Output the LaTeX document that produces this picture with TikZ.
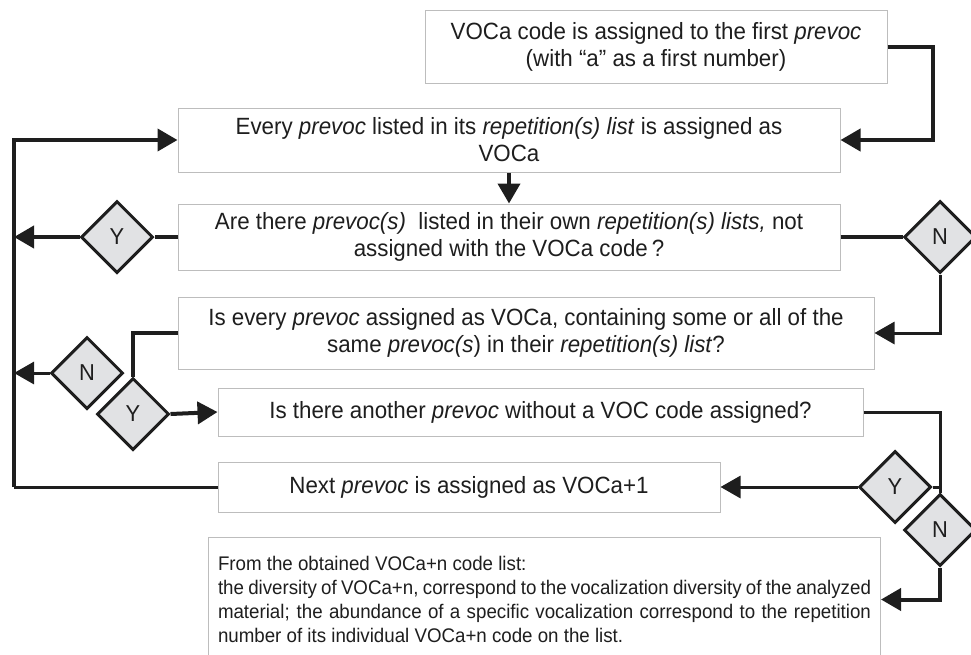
\documentclass[tikz,border=0pt]{standalone}
\usepackage{fontspec}
\setmainfont{Liberation Sans}[FakeStretch=0.95]
\usetikzlibrary{arrows.meta,shapes.geometric,calc}
\definecolor{boxline}{HTML}{BDBDBD}
\definecolor{dfill}{HTML}{E1E2E4}
\definecolor{ink}{HTML}{1E1E1E}
\tikzset{
  stepbox/.style={draw=boxline,line width=1pt,fill=white,align=center,
    inner sep=0pt,font=\fontsize{23.5}{27}\selectfont,text=ink},
  choice/.style={diamond,draw=ink,line width=3pt,fill=dfill,aspect=1,
    minimum size=72pt,inner sep=0pt,font=\fontsize{23}{26}\selectfont,text=ink},
  flow/.style={draw=ink,line width=4pt},
  thinflow/.style={draw=ink,line width=3pt},
  tip/.style={-{Triangle[length=20pt,width=22pt]}}
}
\begin{document}
\begin{tikzpicture}[x=1pt,y=-1pt]
\useasboundingbox (0,0) rectangle (971,654);

% process boxes
\node[stepbox,minimum width=462pt,minimum height=73pt] (b1) at (656,46.5)
  {VOCa code is assigned to the first \textit{prevoc}\\(with “a” as a first number)};
\node[stepbox,minimum width=662pt,minimum height=64pt] (b2) at (509,140)
  {Every \textit{prevoc} listed in its \textit{repetition(s) list} is assigned as\\VOCa};
\node[stepbox,minimum width=662pt,minimum height=66pt] (b3) at (509,237)
  {Are there \textit{prevoc(s)}\ \ listed in their own \textit{repetition(s) lists,} not\\assigned with the VOCa code\,?};
\node[stepbox,minimum width=696pt,minimum height=72pt] (b4) at (526,333)
  {Is every \textit{prevoc} assigned as VOCa, containing some or all of the\\same \textit{prevoc(s}) in their \textit{repetition(s) list}?};
\node[stepbox,minimum width=645pt,minimum height=48pt] (b5) at (540.5,412)
  {Is there another \textit{prevoc} without a VOC code assigned?};
\node[stepbox,minimum width=502pt,minimum height=50pt] (b6) at (469,487)
  {Next \textit{prevoc} is assigned as VOCa+1};
\node[stepbox,minimum width=672pt,minimum height=124pt,anchor=north west,
  align=justify,text width=653pt,inner xsep=9.5pt,inner ysep=9pt,
  font=\fontsize{19.7}{24}\selectfont] (b7) at (208,537)
  {\hyphenpenalty=10000 \exhyphenpenalty=10000
   From the obtained VOCa+n code list:\\
   the diversity of VOCa+n, correspond to the vocalization diversity of the analyzed
   material; the abundance of a specific vocalization correspond to the repetition
   number of its individual VOCa+n code on the list.\par};

% decisions
\node[choice] (y1) at (117,237) {Y};
\node[choice] (n1) at (940,237) {N};
\node[choice] (n2) at (87,373) {N};
\node[choice] (y2) at (133,414) {Y};
\node[choice] (y3) at (895,487) {Y};
\node[choice] (n3) at (940,530) {N};

% return line on the left
\coordinate (lt) at (14,140);
\coordinate (lb) at (14,487);
\draw[thinflow] (b6.west) -- (lb);
\draw[flow,tip] (lb) -- (lt) -- (b2.west);

% connectors
\draw[flow,tip] (b1.east) -- ++(45,0) |- (b2.east);
\draw[flow,tip] (b2.south) -- (b3.north);
\draw[flow] (b3.west) -- (y1.east);
\draw[flow,tip] (y1.west) -- (y1.west -| lt);
\draw[flow] (b3.east) -- (n1.west);
\draw[thinflow,tip] (n1.south) |- (b4.east);
\draw[flow] (b4.west) -| (y2.north);
\draw[thinflow,tip] (n2.west) -- (n2.west -| lt);
\draw[flow,tip] (y2.east) -- (b5.west);
\draw[thinflow] (b5.east) -| (n3.north);
\draw[thinflow] (y3.east) -- (y3.east -| n3.north);
\draw[thinflow,tip] (y3.west) -- (b6.east);
\draw[flow,tip] (n3.south) |- (b7.east);
\end{tikzpicture}
\end{document}
